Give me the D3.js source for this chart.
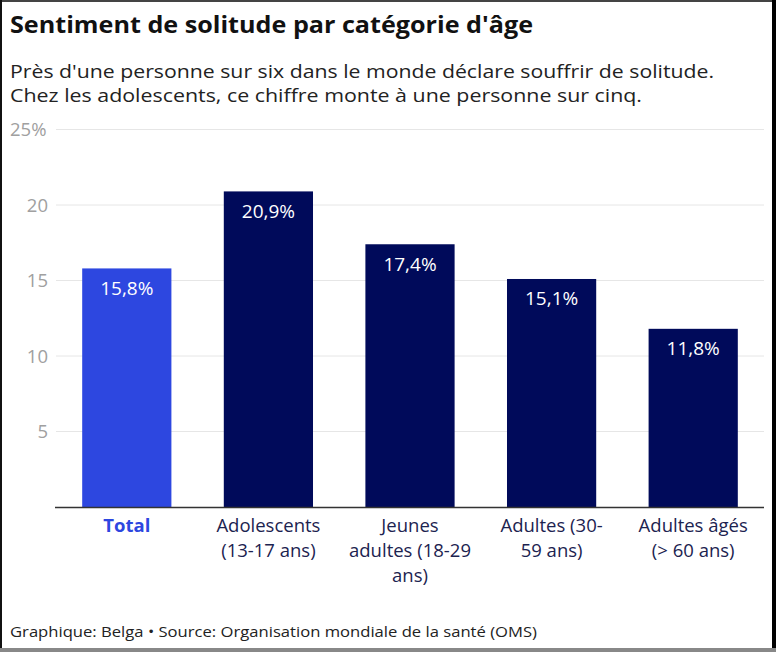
<!DOCTYPE html>
<html><head><meta charset="utf-8">
<script src="https://cdn.jsdelivr.net/npm/d3@7"></script>
<style>
html,body{margin:0;padding:0;background:#fff;}
svg{display:block;font-family:"Open Sans",Lato,sans-serif;}
</style></head>
<body>
<svg id="c" width="776" height="652"></svg>
<script>
const title = "Sentiment de solitude par catégorie d'âge";
const subtitle = ["Près d'une personne sur six dans le monde déclare souffrir de solitude.",
                  "Chez les adolescents, ce chiffre monte à une personne sur cinq."];
const footer = "Graphique: Belga • Source: Organisation mondiale de la santé (OMS)";
const categories = ["Total", "Adolescents\n(13-17 ans)", "Jeunes\nadultes (18-29\nans)", "Adultes (30-\n59 ans)", "Adultes âgés\n(> 60 ans)"];
const values = [15.8, 20.9, 17.4, 15.1, 11.8];
const highlight = ["Total"];
const yTicks = [5, 10, 15, 20, 25];

const svg = d3.select("#c");
const W = 776, H = 652;

// frame borders
svg.append("rect").attr("x",0).attr("y",0).attr("width",W).attr("height",H).attr("fill","#fff");
svg.append("rect").attr("x",0).attr("y",0).attr("width",W).attr("height",2).attr("fill","#444");
svg.append("rect").attr("x",0).attr("y",0).attr("width",2).attr("height",H).attr("fill","#111");
svg.append("rect").attr("x",772).attr("y",0).attr("width",4).attr("height",H).attr("fill","#000");
svg.append("rect").attr("x",0).attr("y",648).attr("width",W).attr("height",4).attr("fill","#888");

const fit = (sel, w) => sel.each(function(){
  const bb = this.getComputedTextLength();
  if (Math.abs(bb - w) > 1) d3.select(this).attr("textLength", w).attr("lengthAdjust","spacingAndGlyphs");
});

svg.append("text").attr("x",10).attr("y",33).attr("font-size",23).attr("font-weight",700)
  .attr("fill","#111").text(title).call(fit, 523);
svg.selectAll("text.sub").data(subtitle).join("text").attr("class","sub")
  .attr("x",10).attr("y",(d,i)=>78+i*24).attr("font-size",19).attr("fill","#222").text(d=>d)
  .each(function(d,i){ d3.select(this).call(fit, i===0?704:632); });

const x = d3.scaleBand().domain(categories).range([56,764]).paddingInner(0.37).paddingOuter(0.185);
const y = d3.scaleLinear().domain([0,25]).range([507,129.5]);

// grid
svg.append("g").selectAll("line").data(yTicks).join("line")
  .attr("x1",56).attr("x2",764).attr("y1",d=>y(d)).attr("y2",d=>y(d))
  .attr("stroke","#e6e6e6").attr("stroke-width",1);

// y tick labels
svg.append("g").selectAll("text").data(yTicks).join("text")
  .attr("x",d=>d===25?10:48).attr("text-anchor",d=>d===25?"start":"end")
  .attr("y",d=>y(d)+6.5).attr("font-size",18.5).attr("fill","#a0a0a0")
  .text(d=>d===25?d+"%":d);

// bars
const color = c => highlight.includes(c) ? "#2d47e0" : "#000a5a";
svg.append("g").selectAll("rect").data(categories).join("rect")
  .attr("x",d=>x(d)).attr("width",x.bandwidth())
  .attr("y",(d,i)=>y(values[i])).attr("height",(d,i)=>y(0)-y(values[i]))
  .attr("fill",color);

// value labels
svg.append("g").selectAll("text").data(categories).join("text")
  .attr("x",d=>x(d)+x.bandwidth()/2).attr("y",(d,i)=>y(values[i])+26.5)
  .attr("text-anchor","middle").attr("font-size",19).attr("fill","#fff")
  .text((d,i)=>d3.format(".1f")(values[i]).replace(".",",")+"%");

// baseline
svg.append("line").attr("x1",55).attr("x2",764).attr("y1",y(0)+0.5).attr("y2",y(0)+0.5)
  .attr("stroke","#333").attr("stroke-width",1.5);

// x labels
const xl = svg.append("g").selectAll("text").data(categories).join("text")
  .attr("x",d=>x(d)+x.bandwidth()/2).attr("y",532).attr("text-anchor","middle")
  .attr("font-size",18.5).attr("fill",d=>highlight.includes(d)?"#2d47e0":"#1c2350")
  .attr("font-weight",d=>highlight.includes(d)?700:400);
xl.each(function(d){
  const t=d3.select(this);
  d.split("\n").forEach((l,i)=>t.append("tspan").attr("x",x(d)+x.bandwidth()/2).attr("dy",i?25:0).text(l));
});

svg.append("text").attr("x",10).attr("y",637).attr("font-size",15).attr("fill","#222").text(footer).call(fit, 527);
</script>
</body></html>
